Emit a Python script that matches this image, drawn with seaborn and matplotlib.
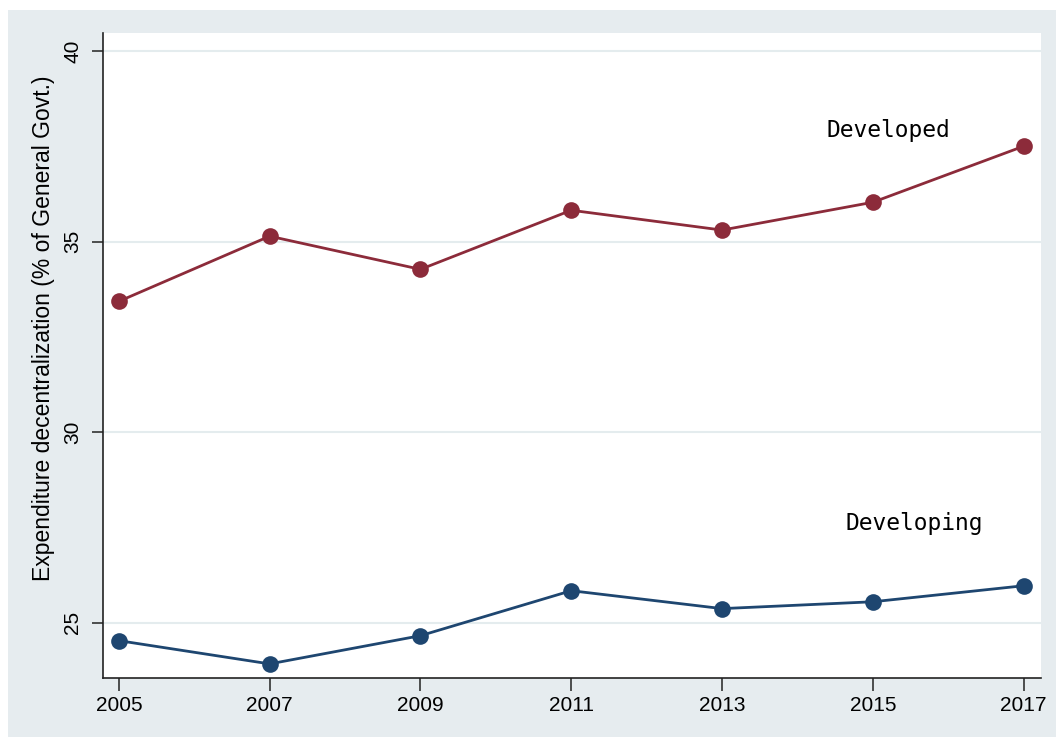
import matplotlib
matplotlib.use("Agg")
import matplotlib.pyplot as plt
import seaborn as sns
import pandas as pd
from matplotlib.patches import Rectangle

years = [2005, 2007, 2009, 2011, 2013, 2015, 2017]
developed = [33.43, 35.14, 34.27, 35.82, 35.30, 36.03, 37.50]
developing = [24.53, 23.92, 24.66, 25.84, 25.37, 25.55, 25.97]
groups = ["Developed", "Developing"]
yticks = [25, 30, 35, 40]

df = pd.DataFrame({
    "year": years * 2,
    "value": developed + developing,
    "group": [groups[0]] * len(years) + [groups[1]] * len(years),
})

sns.set_theme(style="white")
plt.rcParams['font.family'] = ['Liberation Sans', 'DejaVu Sans']
plt.rcParams['text.color'] = 'black'
plt.rcParams['xtick.color'] = 'black'
plt.rcParams['ytick.color'] = 'black'
plt.rcParams['axes.labelcolor'] = 'black'

bg = "#e6ecef"
fig = plt.figure(figsize=(10.56, 7.37), dpi=100, facecolor="white")
fig.patches.append(Rectangle((8/1056, 0), 1 - 8/1056, 1 - 10/737,
                             transform=fig.transFigure, facecolor=bg,
                             edgecolor="none", zorder=-10))
ax = fig.add_axes([103/1056, 1 - 678/737, (1041 - 103)/1056, (678 - 33)/737])
ax.set_facecolor("white")

palette = {"Developed": "#8c2b3a", "Developing": "#1e4670"}
sns.lineplot(data=df, x="year", y="value", hue="group", palette=palette,
             marker="o", markersize=12, markeredgewidth=0, linewidth=2.0,
             legend=False, ax=ax)

ax.set_xlim(2004.79, 2017.23)
ax.set_ylim(23.55, 40.47)
ax.set_xticks(years)
ax.set_xticklabels([str(y) for y in years])
ax.set_yticks(yticks)
ax.set_yticklabels([str(y) for y in yticks], rotation=90, va="center")
ax.yaxis.grid(True, color="#e4ecee", linewidth=1.5)
ax.set_axisbelow(True)

for s in ["top", "right"]:
    ax.spines[s].set_visible(False)
for s in ["left", "bottom"]:
    ax.spines[s].set_color("#222222")
    ax.spines[s].set_linewidth(1.2)

ax.tick_params(axis="y", length=8, width=1.1, color="#222222", pad=7,
               labelsize=15, left=True)
ax.tick_params(axis="x", length=9, width=1.1, color="#222222", pad=4,
               labelsize=15, bottom=True)

ax.set_xlabel("")
ax.set_ylabel("Expenditure decentralization (% of General Govt.)", fontsize=16.5)
ax.yaxis.set_label_coords((55 - 103) / 938, (678 - 328.5) / 645)

ax.text(2014.38, 37.9, "Developed", fontsize=16.5, family="DejaVu Sans Mono",
        va="center", ha="left", color="black")
ax.text(2014.64, 27.6, "Developing", fontsize=16.5, family="DejaVu Sans Mono",
        va="center", ha="left", color="black")

fig.savefig("out.png", dpi=100, facecolor=fig.get_facecolor())
